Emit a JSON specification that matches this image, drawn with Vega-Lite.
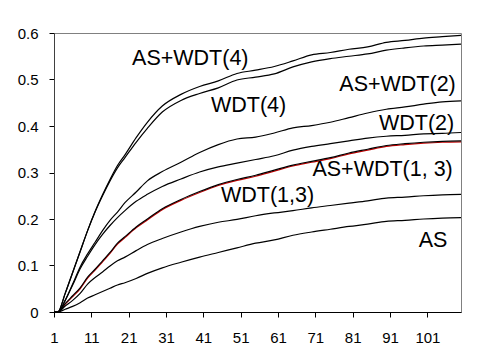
{
  "$schema": "https://vega.github.io/schema/vega-lite/v6.json",
  "width": 407,
  "height": 279,
  "autosize": {"type": "none"},
  "padding": {"left": 54, "top": 33, "right": 16, "bottom": 48},
  "background": "white",
  "config": {
    "view": {"stroke": "#808080", "strokeWidth": 1},
    "font": "Liberation Sans",
    "text": {"font": "Liberation Sans"}
  },
  "datasets": {
    "curves": [
      {"series":"AS+WDT(4)","x":1,"y":0},{"series":"AS+WDT(4)","x":2,"y":0},{"series":"AS+WDT(4)","x":4,"y":0.04},{"series":"AS+WDT(4)","x":6,"y":0.085},{"series":"AS+WDT(4)","x":8,"y":0.13},{"series":"AS+WDT(4)","x":10,"y":0.175},{"series":"AS+WDT(4)","x":12,"y":0.216},{"series":"AS+WDT(4)","x":14,"y":0.252},{"series":"AS+WDT(4)","x":16,"y":0.285},{"series":"AS+WDT(4)","x":18,"y":0.315},{"series":"AS+WDT(4)","x":20,"y":0.338},{"series":"AS+WDT(4)","x":23,"y":0.375},{"series":"AS+WDT(4)","x":26,"y":0.408},{"series":"AS+WDT(4)","x":30,"y":0.443},{"series":"AS+WDT(4)","x":35,"y":0.468},{"series":"AS+WDT(4)","x":40,"y":0.485},{"series":"AS+WDT(4)","x":45,"y":0.497},{"series":"AS+WDT(4)","x":50,"y":0.513},{"series":"AS+WDT(4)","x":55,"y":0.52},{"series":"AS+WDT(4)","x":60,"y":0.528},{"series":"AS+WDT(4)","x":65,"y":0.54},{"series":"AS+WDT(4)","x":70,"y":0.553},{"series":"AS+WDT(4)","x":75,"y":0.558},{"series":"AS+WDT(4)","x":80,"y":0.565},{"series":"AS+WDT(4)","x":85,"y":0.57},{"series":"AS+WDT(4)","x":90,"y":0.58},{"series":"AS+WDT(4)","x":95,"y":0.584},{"series":"AS+WDT(4)","x":100,"y":0.589},{"series":"AS+WDT(4)","x":105,"y":0.592},{"series":"AS+WDT(4)","x":110,"y":0.595},
      {"series":"WDT(4)","x":1,"y":0},{"series":"WDT(4)","x":2,"y":0},{"series":"WDT(4)","x":4,"y":0.04},{"series":"WDT(4)","x":6,"y":0.085},{"series":"WDT(4)","x":8,"y":0.13},{"series":"WDT(4)","x":10,"y":0.175},{"series":"WDT(4)","x":12,"y":0.215},{"series":"WDT(4)","x":14,"y":0.25},{"series":"WDT(4)","x":16,"y":0.282},{"series":"WDT(4)","x":18,"y":0.31},{"series":"WDT(4)","x":20,"y":0.332},{"series":"WDT(4)","x":23,"y":0.365},{"series":"WDT(4)","x":26,"y":0.395},{"series":"WDT(4)","x":30,"y":0.43},{"series":"WDT(4)","x":35,"y":0.455},{"series":"WDT(4)","x":40,"y":0.47},{"series":"WDT(4)","x":45,"y":0.482},{"series":"WDT(4)","x":50,"y":0.499},{"series":"WDT(4)","x":55,"y":0.505},{"series":"WDT(4)","x":60,"y":0.512},{"series":"WDT(4)","x":65,"y":0.527},{"series":"WDT(4)","x":70,"y":0.538},{"series":"WDT(4)","x":75,"y":0.545},{"series":"WDT(4)","x":80,"y":0.55},{"series":"WDT(4)","x":85,"y":0.555},{"series":"WDT(4)","x":90,"y":0.563},{"series":"WDT(4)","x":95,"y":0.568},{"series":"WDT(4)","x":100,"y":0.572},{"series":"WDT(4)","x":105,"y":0.574},{"series":"WDT(4)","x":110,"y":0.576},
      {"series":"AS+WDT(2)","x":1,"y":0},{"series":"AS+WDT(2)","x":2,"y":0},{"series":"AS+WDT(2)","x":4,"y":0.025},{"series":"AS+WDT(2)","x":6,"y":0.06},{"series":"AS+WDT(2)","x":8,"y":0.097},{"series":"AS+WDT(2)","x":10,"y":0.125},{"series":"AS+WDT(2)","x":12,"y":0.15},{"series":"AS+WDT(2)","x":14,"y":0.175},{"series":"AS+WDT(2)","x":16,"y":0.197},{"series":"AS+WDT(2)","x":18,"y":0.215},{"series":"AS+WDT(2)","x":20,"y":0.235},{"series":"AS+WDT(2)","x":23,"y":0.258},{"series":"AS+WDT(2)","x":26,"y":0.282},{"series":"AS+WDT(2)","x":30,"y":0.302},{"series":"AS+WDT(2)","x":35,"y":0.322},{"series":"AS+WDT(2)","x":40,"y":0.343},{"series":"AS+WDT(2)","x":45,"y":0.36},{"series":"AS+WDT(2)","x":50,"y":0.372},{"series":"AS+WDT(2)","x":55,"y":0.376},{"series":"AS+WDT(2)","x":60,"y":0.385},{"series":"AS+WDT(2)","x":65,"y":0.396},{"series":"AS+WDT(2)","x":70,"y":0.401},{"series":"AS+WDT(2)","x":75,"y":0.408},{"series":"AS+WDT(2)","x":80,"y":0.418},{"series":"AS+WDT(2)","x":85,"y":0.428},{"series":"AS+WDT(2)","x":90,"y":0.436},{"series":"AS+WDT(2)","x":95,"y":0.441},{"series":"AS+WDT(2)","x":100,"y":0.447},{"series":"AS+WDT(2)","x":105,"y":0.452},{"series":"AS+WDT(2)","x":110,"y":0.454},
      {"series":"WDT(2)","x":1,"y":0},{"series":"WDT(2)","x":2,"y":0},{"series":"WDT(2)","x":4,"y":0.025},{"series":"WDT(2)","x":6,"y":0.058},{"series":"WDT(2)","x":8,"y":0.093},{"series":"WDT(2)","x":10,"y":0.12},{"series":"WDT(2)","x":12,"y":0.145},{"series":"WDT(2)","x":14,"y":0.167},{"series":"WDT(2)","x":16,"y":0.186},{"series":"WDT(2)","x":18,"y":0.203},{"series":"WDT(2)","x":20,"y":0.218},{"series":"WDT(2)","x":23,"y":0.238},{"series":"WDT(2)","x":26,"y":0.253},{"series":"WDT(2)","x":30,"y":0.27},{"series":"WDT(2)","x":35,"y":0.286},{"series":"WDT(2)","x":40,"y":0.301},{"series":"WDT(2)","x":45,"y":0.312},{"series":"WDT(2)","x":50,"y":0.32},{"series":"WDT(2)","x":55,"y":0.328},{"series":"WDT(2)","x":60,"y":0.336},{"series":"WDT(2)","x":65,"y":0.348},{"series":"WDT(2)","x":70,"y":0.356},{"series":"WDT(2)","x":75,"y":0.362},{"series":"WDT(2)","x":80,"y":0.368},{"series":"WDT(2)","x":85,"y":0.374},{"series":"WDT(2)","x":90,"y":0.378},{"series":"WDT(2)","x":95,"y":0.38},{"series":"WDT(2)","x":100,"y":0.383},{"series":"WDT(2)","x":105,"y":0.384},{"series":"WDT(2)","x":110,"y":0.386},
      {"series":"AS+WDT(1, 3) red","x":1,"y":0},{"series":"AS+WDT(1, 3) red","x":2,"y":0},{"series":"AS+WDT(1, 3) red","x":4,"y":0.017},{"series":"AS+WDT(1, 3) red","x":6,"y":0.033},{"series":"AS+WDT(1, 3) red","x":8,"y":0.05},{"series":"AS+WDT(1, 3) red","x":10,"y":0.073},{"series":"AS+WDT(1, 3) red","x":12,"y":0.09},{"series":"AS+WDT(1, 3) red","x":14,"y":0.108},{"series":"AS+WDT(1, 3) red","x":16,"y":0.126},{"series":"AS+WDT(1, 3) red","x":18,"y":0.146},{"series":"AS+WDT(1, 3) red","x":20,"y":0.16},{"series":"AS+WDT(1, 3) red","x":23,"y":0.181},{"series":"AS+WDT(1, 3) red","x":26,"y":0.198},{"series":"AS+WDT(1, 3) red","x":30,"y":0.22},{"series":"AS+WDT(1, 3) red","x":35,"y":0.24},{"series":"AS+WDT(1, 3) red","x":40,"y":0.257},{"series":"AS+WDT(1, 3) red","x":45,"y":0.272},{"series":"AS+WDT(1, 3) red","x":50,"y":0.283},{"series":"AS+WDT(1, 3) red","x":55,"y":0.292},{"series":"AS+WDT(1, 3) red","x":60,"y":0.303},{"series":"AS+WDT(1, 3) red","x":65,"y":0.314},{"series":"AS+WDT(1, 3) red","x":70,"y":0.322},{"series":"AS+WDT(1, 3) red","x":75,"y":0.33},{"series":"AS+WDT(1, 3) red","x":80,"y":0.34},{"series":"AS+WDT(1, 3) red","x":85,"y":0.348},{"series":"AS+WDT(1, 3) red","x":90,"y":0.356},{"series":"AS+WDT(1, 3) red","x":95,"y":0.36},{"series":"AS+WDT(1, 3) red","x":100,"y":0.363},{"series":"AS+WDT(1, 3) red","x":105,"y":0.365},{"series":"AS+WDT(1, 3) red","x":110,"y":0.366},
      {"series":"AS+WDT(1, 3)","x":1,"y":0},{"series":"AS+WDT(1, 3)","x":2,"y":0},{"series":"AS+WDT(1, 3)","x":4,"y":0.018},{"series":"AS+WDT(1, 3)","x":6,"y":0.035},{"series":"AS+WDT(1, 3)","x":8,"y":0.052},{"series":"AS+WDT(1, 3)","x":10,"y":0.075},{"series":"AS+WDT(1, 3)","x":12,"y":0.092},{"series":"AS+WDT(1, 3)","x":14,"y":0.11},{"series":"AS+WDT(1, 3)","x":16,"y":0.128},{"series":"AS+WDT(1, 3)","x":18,"y":0.148},{"series":"AS+WDT(1, 3)","x":20,"y":0.162},{"series":"AS+WDT(1, 3)","x":23,"y":0.183},{"series":"AS+WDT(1, 3)","x":26,"y":0.2},{"series":"AS+WDT(1, 3)","x":30,"y":0.222},{"series":"AS+WDT(1, 3)","x":35,"y":0.242},{"series":"AS+WDT(1, 3)","x":40,"y":0.259},{"series":"AS+WDT(1, 3)","x":45,"y":0.274},{"series":"AS+WDT(1, 3)","x":50,"y":0.285},{"series":"AS+WDT(1, 3)","x":55,"y":0.294},{"series":"AS+WDT(1, 3)","x":60,"y":0.305},{"series":"AS+WDT(1, 3)","x":65,"y":0.316},{"series":"AS+WDT(1, 3)","x":70,"y":0.324},{"series":"AS+WDT(1, 3)","x":75,"y":0.332},{"series":"AS+WDT(1, 3)","x":80,"y":0.342},{"series":"AS+WDT(1, 3)","x":85,"y":0.35},{"series":"AS+WDT(1, 3)","x":90,"y":0.358},{"series":"AS+WDT(1, 3)","x":95,"y":0.362},{"series":"AS+WDT(1, 3)","x":100,"y":0.365},{"series":"AS+WDT(1, 3)","x":105,"y":0.367},{"series":"AS+WDT(1, 3)","x":110,"y":0.368},
      {"series":"WDT(1,3)","x":1,"y":0},{"series":"WDT(1,3)","x":2,"y":0},{"series":"WDT(1,3)","x":4,"y":0.013},{"series":"WDT(1,3)","x":6,"y":0.025},{"series":"WDT(1,3)","x":8,"y":0.04},{"series":"WDT(1,3)","x":10,"y":0.06},{"series":"WDT(1,3)","x":12,"y":0.074},{"series":"WDT(1,3)","x":14,"y":0.086},{"series":"WDT(1,3)","x":16,"y":0.099},{"series":"WDT(1,3)","x":18,"y":0.11},{"series":"WDT(1,3)","x":20,"y":0.118},{"series":"WDT(1,3)","x":23,"y":0.132},{"series":"WDT(1,3)","x":26,"y":0.145},{"series":"WDT(1,3)","x":30,"y":0.158},{"series":"WDT(1,3)","x":35,"y":0.172},{"series":"WDT(1,3)","x":40,"y":0.184},{"series":"WDT(1,3)","x":45,"y":0.193},{"series":"WDT(1,3)","x":50,"y":0.199},{"series":"WDT(1,3)","x":55,"y":0.207},{"series":"WDT(1,3)","x":60,"y":0.213},{"series":"WDT(1,3)","x":65,"y":0.218},{"series":"WDT(1,3)","x":70,"y":0.224},{"series":"WDT(1,3)","x":75,"y":0.229},{"series":"WDT(1,3)","x":80,"y":0.234},{"series":"WDT(1,3)","x":85,"y":0.239},{"series":"WDT(1,3)","x":90,"y":0.245},{"series":"WDT(1,3)","x":95,"y":0.247},{"series":"WDT(1,3)","x":100,"y":0.25},{"series":"WDT(1,3)","x":105,"y":0.252},{"series":"WDT(1,3)","x":110,"y":0.253},
      {"series":"AS","x":1,"y":0},{"series":"AS","x":2,"y":0},{"series":"AS","x":4,"y":0.006},{"series":"AS","x":6,"y":0.012},{"series":"AS","x":8,"y":0.02},{"series":"AS","x":10,"y":0.03},{"series":"AS","x":12,"y":0.037},{"series":"AS","x":14,"y":0.044},{"series":"AS","x":16,"y":0.051},{"series":"AS","x":18,"y":0.058},{"series":"AS","x":20,"y":0.063},{"series":"AS","x":23,"y":0.072},{"series":"AS","x":26,"y":0.083},{"series":"AS","x":30,"y":0.095},{"series":"AS","x":35,"y":0.107},{"series":"AS","x":40,"y":0.118},{"series":"AS","x":45,"y":0.128},{"series":"AS","x":50,"y":0.138},{"series":"AS","x":55,"y":0.148},{"series":"AS","x":60,"y":0.155},{"series":"AS","x":65,"y":0.165},{"series":"AS","x":70,"y":0.172},{"series":"AS","x":75,"y":0.178},{"series":"AS","x":80,"y":0.184},{"series":"AS","x":85,"y":0.189},{"series":"AS","x":90,"y":0.195},{"series":"AS","x":95,"y":0.197},{"series":"AS","x":100,"y":0.2},{"series":"AS","x":105,"y":0.202},{"series":"AS","x":110,"y":0.203}
    ],
    "labels": [
      {"label":"AS+WDT(4)","x":37.5,"y":0.545},
      {"label":"WDT(4)","x":53.1,"y":0.443},
      {"label":"AS+WDT(2)","x":93,"y":0.488},
      {"label":"WDT(2)","x":98.1,"y":0.404},
      {"label":"AS+WDT(1, 3)","x":89,"y":0.305},
      {"label":"WDT(1,3)","x":58.2,"y":0.25},
      {"label":"AS","x":102.5,"y":0.153}
    ]
  },
  "encoding": {
    "x": {
      "field": "x", "type": "quantitative",
      "scale": {"domain": [1, 110], "nice": false, "zero": false},
      "axis": {
        "values": [1, 11, 21, 31, 41, 51, 61, 71, 81, 91, 101],
        "title": null, "grid": false,
        "domainColor": "black", "domainWidth": 1,
        "tickColor": "black", "tickSize": 5, "tickWidth": 1,
        "labelFont": "Liberation Sans", "labelFontSize": 15, "labelColor": "black",
        "labelPadding": 13, "labelFlush": false, "labelOverlap": false
      }
    },
    "y": {
      "field": "y", "type": "quantitative",
      "scale": {"domain": [0, 0.6], "nice": false},
      "axis": {
        "values": [0, 0.1, 0.2, 0.3, 0.4, 0.5, 0.6],
        "format": "~g",
        "title": null, "grid": false,
        "domainColor": "#404040", "domainWidth": 1,
        "tickColor": "black", "tickSize": 5, "tickWidth": 1,
        "labelFont": "Liberation Sans", "labelFontSize": 15, "labelColor": "black",
        "labelPadding": 11, "labelFlush": false, "labelOverlap": false
      }
    }
  },
  "layer": [
    {
      "data": {"name": "curves"},
      "transform": [{"filter": "datum.series === 'AS+WDT(1, 3) red'"}],
      "mark": {"type": "line", "color": "#c00000", "strokeWidth": 1.2, "interpolate": "monotone"},
      "encoding": {"detail": {"field": "series"}}
    },
    {
      "data": {"name": "curves"},
      "transform": [{"filter": "datum.series !== 'AS+WDT(1, 3) red'"}],
      "mark": {"type": "line", "color": "black", "interpolate": "monotone"},
      "encoding": {
        "detail": {"field": "series"},
        "strokeWidth": {
          "field": "series", "type": "nominal",
          "scale": {
            "domain": ["AS+WDT(4)", "WDT(4)", "AS+WDT(2)", "WDT(2)", "AS+WDT(1, 3)", "WDT(1,3)", "AS"],
            "range": [1.2, 1.2, 1.1, 1.1, 1, 1.9, 1.1]
          },
          "legend": null
        }
      }
    },
    {
      "data": {"name": "labels"},
      "mark": {"type": "text", "font": "Liberation Sans", "fontSize": 21.5, "color": "black", "align": "center", "baseline": "middle"},
      "encoding": {"text": {"field": "label"}}
    }
  ]
}
